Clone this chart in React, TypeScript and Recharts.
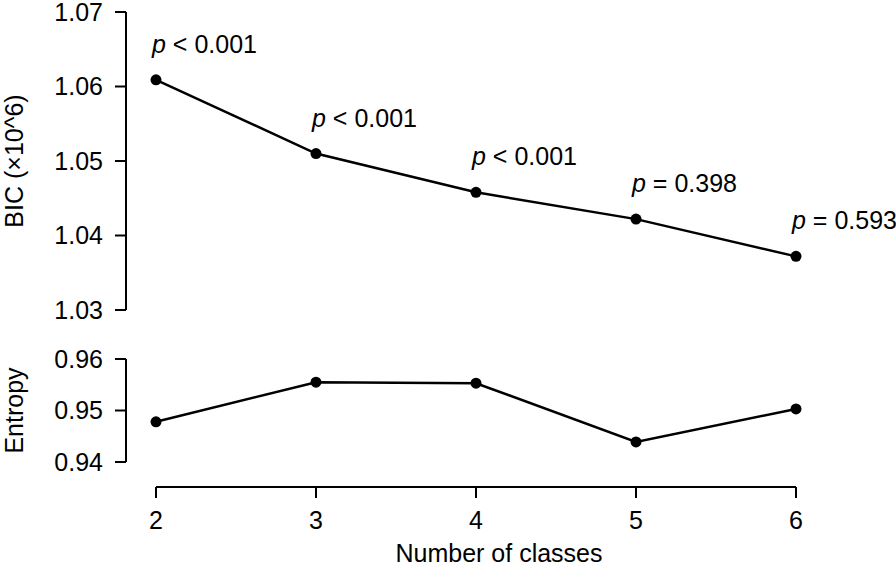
import { Label, LabelList, Line, LineChart, XAxis, YAxis } from "recharts";

const CLASSES = [2, 3, 4, 5, 6];
const BIC = [1.0609, 1.051, 1.0458, 1.0422, 1.0372];
const ENTROPY = [0.9478, 0.9555, 0.9553, 0.9439, 0.9503];
const P_TEXT = ["< 0.001", "< 0.001", "< 0.001", "= 0.398", "= 0.593"];

const BIC_TICKS = [1.03, 1.04, 1.05, 1.06, 1.07];
const ENTROPY_TICKS = [0.94, 0.95, 0.96];

const FONT = "'Liberation Sans', Arial, sans-serif";
const FS = 25;
const INK = "#000";
const TICK_STYLE = { fill: INK, fontSize: FS, fontFamily: FONT };

const data = CLASSES.map((k, i) => ({
  k,
  bic: BIC[i],
  entropy: ENTROPY[i],
  p: P_TEXT[i],
}));

// R-style annotation: italic "p" then the comparison, left-aligned just above the point
function PLabel(props: any) {
  const { x, y, value } = props;
  return (
    <text x={x - 4} y={y - 27} fontSize={FS} fontFamily={FONT} fill={INK}>
      <tspan fontStyle="italic">p</tspan>
      <tspan> {value}</tspan>
    </text>
  );
}

const dot = { r: 5.5, fill: INK, stroke: INK, strokeWidth: 0 };
const axisStroke = { stroke: INK, strokeWidth: 2 };
const svgStyle = { overflow: "visible" as const };

export default function App() {
  return (
    <div style={{ position: "absolute", left: 0, top: 0, width: 896, height: 568, background: "#fff" }}>
      {/* BIC panel */}
      <div style={{ position: "absolute", left: 0, top: 1 }}>
        <LineChart
          width={896}
          height={330}
          data={data}
          style={svgStyle}
          margin={{ top: 11, right: 70, bottom: 21, left: 0 }}
        >
          <XAxis dataKey="k" type="number" domain={[2, 6]} hide padding={{ left: 30, right: 30 }} />
          <YAxis
            type="number"
            domain={[1.03, 1.07]}
            ticks={BIC_TICKS}
            interval={0}
            tickFormatter={(v: number) => v.toFixed(2)}
            width={126}
            tick={TICK_STYLE}
            fontSize={FS}
            tickSize={11}
            tickMargin={12}
            axisLine={axisStroke}
            tickLine={axisStroke}
          >
            <Label
              value="BIC (×10^6)"
              angle={-90}
              position="insideLeft"
              offset={14}
              style={{ textAnchor: "middle", fontSize: FS, fontFamily: FONT, fill: INK }}
            />
          </YAxis>
          <Line
            dataKey="bic"
            stroke={INK}
            strokeWidth={2.5}
            dot={dot}
            activeDot={false}
            isAnimationActive={false}
          >
            <LabelList dataKey="p" content={PLabel} />
          </Line>
        </LineChart>
      </div>

      {/* Entropy panel */}
      <div style={{ position: "absolute", left: 0, top: 330 }}>
        <LineChart
          width={896}
          height={150}
          data={data}
          style={svgStyle}
          margin={{ top: 29, right: 70, bottom: 18, left: 0 }}
        >
          <XAxis dataKey="k" type="number" domain={[2, 6]} hide padding={{ left: 30, right: 30 }} />
          <YAxis
            type="number"
            domain={[0.94, 0.96]}
            ticks={ENTROPY_TICKS}
            interval={0}
            tickFormatter={(v: number) => v.toFixed(2)}
            width={126}
            tick={TICK_STYLE}
            fontSize={FS}
            tickSize={11}
            tickMargin={12}
            axisLine={axisStroke}
            tickLine={axisStroke}
          >
            <Label
              value="Entropy"
              angle={-90}
              position="insideLeft"
              offset={14}
              style={{ textAnchor: "middle", fontSize: FS, fontFamily: FONT, fill: INK }}
            />
          </YAxis>
          <Line
            dataKey="entropy"
            stroke={INK}
            strokeWidth={2.5}
            dot={dot}
            activeDot={false}
            isAnimationActive={false}
          />
        </LineChart>
      </div>

      {/* shared x axis, drawn only between the first and last tick like R */}
      <div style={{ position: "absolute", left: 0, top: 459 }}>
        <LineChart width={896} height={109} data={data} margin={{ top: 27, right: 100, bottom: 0, left: 156 }}>
          <XAxis
            dataKey="k"
            type="number"
            domain={[2, 6]}
            ticks={CLASSES}
            interval={0}
            height={81}
            tick={TICK_STYLE}
            fontSize={FS}
            tickSize={11}
            tickMargin={13}
            axisLine={axisStroke}
            tickLine={axisStroke}
          >
            <Label
              value="Number of classes"
              position="insideBottom"
              offset={6}
              dx={23}
              style={{ fontSize: FS, fontFamily: FONT, fill: INK }}
            />
          </XAxis>
          <YAxis hide domain={[0.94, 0.96]} />
          <Line dataKey="entropy" stroke="none" dot={false} activeDot={false} isAnimationActive={false} />
        </LineChart>
      </div>
    </div>
  );
}
